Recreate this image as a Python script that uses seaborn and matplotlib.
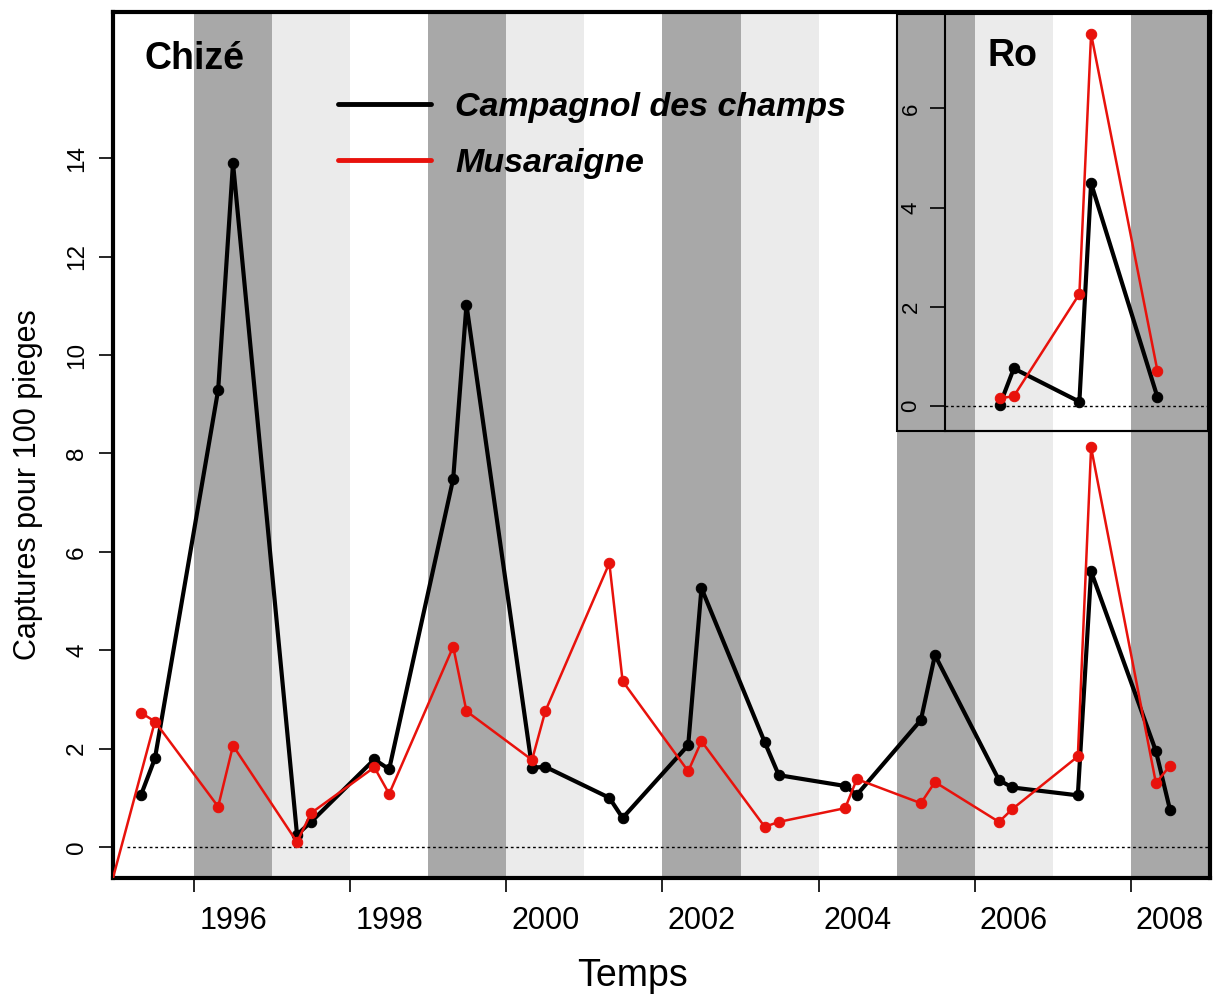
import matplotlib.pyplot as plt
import matplotlib.patches as mpatches
from matplotlib.lines import Line2D
import seaborn as sns

# Chizé: sampling dates (decimal years) and captures per 100 traps
chize_dates = [1994.82, 1995.0, 1995.81, 1996.0, 1996.82, 1997.0, 1997.81, 1998.0,
               1998.82, 1998.99, 1999.83, 2000.0, 2000.82, 2000.99, 2001.83, 2002.0,
               2002.81, 2002.99, 2003.84, 2003.99, 2004.81, 2004.99, 2005.81, 2005.98,
               2006.82, 2006.99, 2007.82, 2008.0]
chize_campagnol = [1.05, 1.80, 9.29, 13.90, 0.25, 0.51, 1.78, 1.58,
                   7.48, 11.02, 1.61, 1.63, 1.00, 0.59, 2.07, 5.26,
                   2.13, 1.46, 1.24, 1.06, 2.58, 3.90, 1.36, 1.21,
                   1.05, 5.60, 1.95, 0.76]
chize_musaraigne = [2.73, 2.55, 0.82, 2.06, 0.10, 0.69, 1.62, 1.08,
                    4.07, 2.76, 1.77, 2.76, 5.77, 3.37, 1.54, 2.15,
                    0.41, 0.51, 0.79, 1.38, 0.89, 1.32, 0.51, 0.77,
                    1.84, 8.12, 1.30, 1.65]
# earlier shrew sample, outside the plotted range
musaraigne_lead_dates = [1994.40, 1995.0]
musaraigne_lead = [-1.0, 2.55]

# Ro
ro_dates = [2005.82, 2006.0, 2006.84, 2006.99, 2007.84]
ro_campagnol = [0.02, 0.76, 0.09, 4.49, 0.18]
ro_musaraigne = [0.16, 0.20, 2.26, 7.50, 0.71]

band_years = list(range(1995, 2009))
band_shades = ['white', 'dark', 'light'] * 5
band_colors = {'white': '#ffffff', 'dark': '#a8a8a8', 'light': '#ebebeb'}

sns.set_theme(style='white')
plt.rcParams['font.family'] = ['Liberation Sans', 'DejaVu Sans']
plt.rcParams['text.color'] = 'black'
plt.rcParams['axes.labelcolor'] = 'black'
plt.rcParams['xtick.color'] = 'black'
plt.rcParams['ytick.color'] = 'black'

W, H = 1216, 998
fig = plt.figure(figsize=(W / 100, H / 100), dpi=100)
fig.patch.set_facecolor('white')


def box(left, right, top, bottom):
    return [left / W, 1 - bottom / H, (right - left) / W, (bottom - top) / H]


def px_to_year(px):
    return 1996 + (px - 233) / 78.08


def draw_bands(axis):
    for yr, shade in zip(band_years, band_shades):
        axis.axvspan(yr - 0.5, yr + 0.5, color=band_colors[shade], lw=0, zorder=0)


def draw_series(axis, dates, vole, shrew):
    sns.lineplot(x=dates, y=vole, ax=axis, color='black', linewidth=3,
                 marker='o', markersize=7.5, markeredgecolor='black',
                 sort=False, estimator=None, zorder=3)
    sns.lineplot(x=dates, y=shrew, ax=axis, color='#e8120c', linewidth=1.8,
                 marker='o', markersize=7.5, markeredgecolor='#e8120c',
                 sort=False, estimator=None, zorder=4)


# main panel
ax = fig.add_axes(box(113, 1210, 12, 878))
draw_bands(ax)
ax.hlines(0, 1994.64, 2009, colors='black', linestyles=(0, (2, 2)), lw=1, zorder=2)
sns.lineplot(x=musaraigne_lead_dates, y=musaraigne_lead, ax=ax, color='#e8120c',
             linewidth=1.8, sort=False, estimator=None, zorder=4)
draw_series(ax, chize_dates, chize_campagnol, chize_musaraigne)
ax.set_xlim(px_to_year(113), px_to_year(1210))
ax.set_ylim(-0.63, 16.97)

ax.set_xticks([y - 0.5 for y in range(1996, 2009, 2)])
ax.set_xticklabels([])
ax.set_xticks(list(range(1996, 2009, 2)), minor=True)
ax.set_xticklabels([str(y) for y in range(1996, 2009, 2)], minor=True, fontsize=22)
ax.tick_params(axis='x', which='major', direction='out', length=10, width=1.2,
               bottom=True, color='black')
ax.tick_params(axis='x', which='minor', length=0, pad=20, bottom=True,
               labelcolor='black')

ax.set_yticks(list(range(0, 15, 2)))
ax.set_yticklabels([str(v) for v in range(0, 15, 2)], fontsize=17.5, rotation=90,
                   va='center')
ax.tick_params(axis='y', direction='out', length=10, width=1.2, pad=8,
               left=True, color='black', labelcolor='black')
for s in ax.spines.values():
    s.set_linewidth(3)
    s.set_color('black')
ax.set_xlabel('')
ax.set_ylabel('')

handles = [Line2D([], [], color='black', lw=3.5),
           Line2D([], [], color='#e8120c', lw=3.5)]
fig.legend(handles, ['Campagnol des champs', 'Musaraigne'], loc='upper left',
           bbox_to_anchor=(321 / W, 1 - 75 / H), frameon=False, borderpad=0,
           handlelength=2.72, handletextpad=0.72, labelspacing=0.74,
           prop={'size': 24.5, 'weight': 'bold', 'style': 'italic'})

fig.text(145 / W, 1 - 59 / H, 'Chizé', fontsize=27, fontweight='bold',
         ha='left', va='center')
fig.text(28 / W, 1 - 485 / H, 'Captures pour 100 pieges', fontsize=22,
         rotation=90, ha='center', va='center')
fig.text(633 / W, 1 - 976 / H, 'Temps', fontsize=27, ha='center', va='center')

# inset panel (Ro)
axin = fig.add_axes(box(945, 1208, 14, 431))
axin.set_facecolor('none')
draw_bands(axin)
axin.axhline(0, color='black', linestyle=(0, (2, 2)), lw=1, zorder=2)
draw_series(axin, ro_dates, ro_campagnol, ro_musaraigne)
axin.set_xlim(px_to_year(945), px_to_year(1208))
axin.set_ylim(-0.50, 7.90)
axin.set_xticks([])
axin.set_yticks([0, 2, 4, 6])
axin.set_yticklabels(['0', '2', '4', '6'], fontsize=16, rotation=90, va='center')
axin.tick_params(axis='y', direction='out', length=11, width=1.2, pad=6,
                 left=True, color='black', labelcolor='black')
axin.set_xlabel('')
axin.set_ylabel('')
for side in ['top', 'right']:
    axin.spines[side].set_visible(False)
for side in ['left', 'bottom']:
    axin.spines[side].set_linewidth(1.5)
    axin.spines[side].set_color('black')

frame = mpatches.Rectangle((897 / W, 1 - 431 / H), (1208 - 897) / W, (431 - 14) / H,
                           transform=fig.transFigure, fill=False, lw=1.5,
                           edgecolor='black', zorder=5)
fig.add_artist(frame)
fig.text(988 / W, 1 - 56 / H, 'Ro', fontsize=27, fontweight='bold',
         ha='left', va='center')

fig.savefig('out.png', dpi=100)
